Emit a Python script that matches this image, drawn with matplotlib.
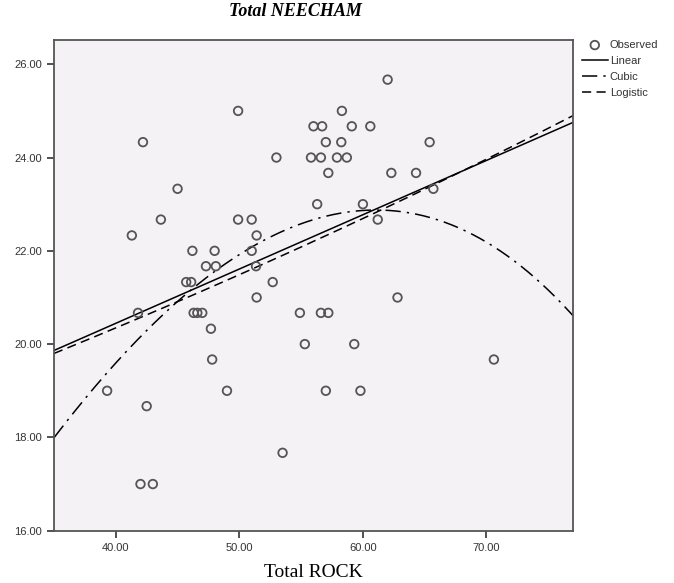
import numpy as np
import matplotlib.pyplot as plt

# observed points
rock = [49.9, 42.2, 53.0, 45.0, 43.65, 41.3, 49.9, 51.0, 51.4, 46.2,
        48.0, 51.0, 47.3, 48.1, 51.35, 45.7, 46.1, 52.7, 51.4, 41.8,
        46.3, 46.6, 47.0, 54.9, 47.7, 55.3, 47.8, 39.3, 49.0, 42.5,
        53.5, 42.0, 43.0, 62.0, 58.3, 56.0, 56.7, 59.1, 60.6, 57.0,
        58.25, 65.4, 55.8, 56.6, 57.9, 58.7, 57.2, 62.3, 64.3, 65.7,
        56.3, 60.0, 61.2, 62.8, 56.6, 57.2, 59.3, 57.0, 59.8, 70.6]
neecham = [25.0, 24.33, 24.0, 23.33, 22.67, 22.33, 22.67, 22.67, 22.33, 22.0,
           22.0, 22.0, 21.67, 21.67, 21.67, 21.33, 21.33, 21.33, 21.0, 20.67,
           20.67, 20.67, 20.67, 20.67, 20.33, 20.0, 19.67, 19.0, 19.0, 18.67,
           17.67, 17.0, 17.0, 25.67, 25.0, 24.67, 24.67, 24.67, 24.67, 24.33,
           24.33, 24.33, 24.0, 24.0, 24.0, 24.0, 23.67, 23.67, 23.67, 23.33,
           23.0, 23.0, 22.67, 21.0, 20.67, 20.67, 20.0, 19.0, 19.0, 19.67]

# fitted curves
linear_coef = [0.1164, 15.79]               # slope, intercept
cubic_pts_x = [35.0, 39.65, 42.5, 44.2, 49.0, 53.85, 57.6, 63.0, 65.5, 69.0, 72.2, 74.9, 77.1]
cubic_pts_y = [18.0, 19.5, 20.26, 20.71, 21.8, 22.44, 22.77, 22.84, 22.73, 22.34, 21.76, 21.19, 20.59]
logistic_b0, logistic_b1 = 0.06113, 0.99456  # y = 1 / (b0 * b1**x)

xticks = [40, 50, 60, 70]
yticks = [16, 18, 20, 22, 24, 26]

fig = plt.figure(figsize=(6.74, 5.83), dpi=100)
ax = fig.add_axes([0.0801, 0.0897, 0.770, 0.8417])
ax.set_facecolor('#f5f2f5')

xs = np.linspace(35, 77, 300)
cubic_coef = np.polyfit(cubic_pts_x, cubic_pts_y, 3)

ax.scatter(rock, neecham, s=38, facecolors='none', edgecolors='#555555',
           linewidths=1.3, zorder=3, label='Observed')
ax.plot(xs, np.polyval(linear_coef, xs), color='black', lw=1.1, label='Linear')
ax.plot(xs, np.polyval(cubic_coef, xs), color='black', lw=1.1,
        dashes=(10, 4, 1.5, 4), label='Cubic')
ax.plot(xs, 1.0 / (logistic_b0 * logistic_b1 ** xs), color='black', lw=1.1,
        dashes=(6, 3.5), label='Logistic')

ax.set_xlim(35, 77)
ax.set_ylim(16, 26.52)
ax.set_xticks(xticks)
ax.set_yticks(yticks)
ax.set_xticklabels([f"{v:.2f}" for v in xticks])
ax.set_yticklabels([f"{v:.2f}" for v in yticks])
ax.tick_params(labelsize=8, colors='#333333', length=5, width=1.2, direction='out')
for lab in ax.get_xticklabels() + ax.get_yticklabels():
    lab.set_family('Liberation Sans')
for s in ax.spines.values():
    s.set_color('#555555')
    s.set_linewidth(1.3)

ax.set_xlabel('Total ROCK', family='Liberation Serif', fontsize=14, labelpad=8)
fig.text(295 / 674, 1 - 12 / 583, 'Total NEECHAM', family='Liberation Serif',
         fontsize=13, fontweight='bold', style='italic', ha='center', va='center')

leg = fig.legend(loc='upper left', bbox_to_anchor=(582 / 674, 1 - 40 / 583),
                 frameon=False, prop={'family': 'Liberation Sans', 'size': 8},
                 handlelength=2.3, handletextpad=0.2,
                 labelspacing=0.55, borderaxespad=0, borderpad=0)
for t in leg.get_texts():
    t.set_color('#333333')

fig.savefig('out.png', dpi=100)
